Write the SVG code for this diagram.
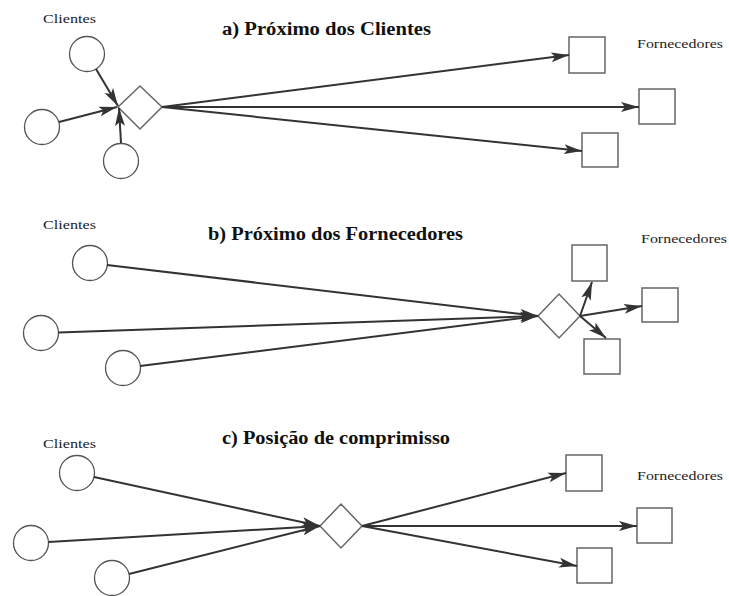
<svg xmlns="http://www.w3.org/2000/svg" width="729" height="596" viewBox="0 0 729 596">
<style>
.bg{fill:#fff}
.cl circle{fill:#fff;stroke:#555;stroke-width:1.3}
.sp rect{fill:#fff;stroke:#666;stroke-width:1.5}
.dc polygon{fill:#fff;stroke:#666;stroke-width:1.5}
.lbl{font-family:'Liberation Serif','Times New Roman','DejaVu Serif',serif;font-size:13px;fill:#222}
.ttl{font-family:'Liberation Serif','Times New Roman','DejaVu Serif',serif;font-size:18px;font-weight:bold;fill:#111}
.conn line{stroke:#333;stroke-width:2;marker-end:url(#ah)}
</style>
<defs>
<marker id="ah" markerUnits="userSpaceOnUse" markerWidth="19" markerHeight="11" refX="18" refY="5.5" orient="auto">
<path d="M0,0.5 L18,5.5 L0,10.5 L4,5.5 z" fill="#333"/>
</marker>
</defs>
<rect class="bg" x="0" y="0" width="729" height="596"/>

<!-- Section a -->
<text class="ttl" x="222" y="35" textLength="209" lengthAdjust="spacingAndGlyphs">a) Próximo dos Clientes</text>
<text class="lbl" x="43" y="23" textLength="53" lengthAdjust="spacingAndGlyphs">Clientes</text>
<text class="lbl" x="637" y="48" textLength="86" lengthAdjust="spacingAndGlyphs">Fornecedores</text>
<g class="cl">
<g id="a-c1"><circle cx="87" cy="54" r="17.5"/></g>
<g id="a-c2"><circle cx="42" cy="127" r="17.5"/></g>
<g id="a-c3"><circle cx="121" cy="161" r="17.5"/></g>
</g>
<g class="dc"><g id="a-dc"><polygon points="118,107 140,86 162,107 140,129"/></g></g>
<g class="sp">
<g id="a-s1"><rect x="569" y="37" width="36" height="36"/></g>
<g id="a-s2"><rect x="639" y="89" width="36" height="35"/></g>
<g id="a-s3"><rect x="582" y="133" width="36" height="34"/></g>
</g>

<!-- Section b -->
<text class="ttl" x="208" y="240" textLength="255" lengthAdjust="spacingAndGlyphs">b) Próximo dos Fornecedores</text>
<text class="lbl" x="43" y="229" textLength="53" lengthAdjust="spacingAndGlyphs">Clientes</text>
<text class="lbl" x="641" y="243" textLength="86" lengthAdjust="spacingAndGlyphs">Fornecedores</text>
<g class="cl">
<g id="b-c1"><circle cx="90" cy="263" r="17.5"/></g>
<g id="b-c2"><circle cx="41" cy="333" r="17.5"/></g>
<g id="b-c3"><circle cx="123" cy="368" r="17.5"/></g>
</g>
<g class="dc"><g id="b-dc"><polygon points="538,316 559,294 580,316 559,338"/></g></g>
<g class="sp">
<g id="b-s1"><rect x="572" y="245" width="35" height="36"/></g>
<g id="b-s2"><rect x="642" y="288" width="36" height="34"/></g>
<g id="b-s3"><rect x="584" y="339" width="36" height="35"/></g>
</g>

<!-- Section c -->
<text class="ttl" x="222" y="444" textLength="228" lengthAdjust="spacingAndGlyphs">c) Posição de comprimisso</text>
<text class="lbl" x="43" y="448" textLength="53" lengthAdjust="spacingAndGlyphs">Clientes</text>
<text class="lbl" x="637" y="480" textLength="86" lengthAdjust="spacingAndGlyphs">Fornecedores</text>
<g class="cl">
<g id="c-c1"><circle cx="77" cy="473" r="17.5"/></g>
<g id="c-c2"><circle cx="31" cy="543" r="17.5"/></g>
<g id="c-c3"><circle cx="112" cy="578" r="17.5"/></g>
</g>
<g class="dc"><g id="c-dc"><polygon points="320,526 341,504 362,526 341,548"/></g></g>
<g class="sp">
<g id="c-s1"><rect x="566" y="455" width="36" height="36"/></g>
<g id="c-s2"><rect x="637" y="508" width="35" height="35"/></g>
<g id="c-s3"><rect x="577" y="548" width="35" height="35"/></g>
</g>

<g id="connectors" class="conn">
<line x1="96" y1="69" x2="118" y2="106"/>
<line x1="59" y1="122" x2="117" y2="107"/>
<line x1="121" y1="143" x2="119" y2="108"/>
<line x1="162" y1="107" x2="569" y2="55"/>
<line x1="162" y1="107" x2="639" y2="107"/>
<line x1="162" y1="107" x2="582" y2="151"/>

<line x1="107" y1="265" x2="538" y2="316"/>
<line x1="58.5" y1="332.5" x2="538" y2="316"/>
<line x1="140" y1="366" x2="538" y2="316"/>
<line x1="580" y1="316" x2="592" y2="282"/>
<line x1="580" y1="316" x2="642" y2="306"/>
<line x1="580" y1="316" x2="606" y2="338"/>

<line x1="94" y1="477" x2="320" y2="526"/>
<line x1="48.5" y1="542" x2="320" y2="526"/>
<line x1="129" y1="574" x2="320" y2="526"/>
<line x1="362" y1="526" x2="566" y2="473"/>
<line x1="362" y1="526" x2="637" y2="526"/>
<line x1="362" y1="526" x2="577" y2="566"/>
</g>
</svg>
